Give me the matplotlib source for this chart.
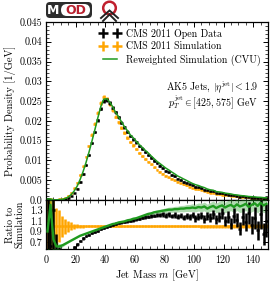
import numpy as np
import matplotlib
matplotlib.use("Agg")
import matplotlib.pyplot as plt
from matplotlib.patches import FancyBboxPatch, Circle
from matplotlib.ticker import MultipleLocator, FixedLocator, FixedFormatter

plt.rcParams['font.family'] = 'serif'
plt.rcParams['font.serif'] = ['cmr10']
plt.rcParams['mathtext.fontset'] = 'cm'
plt.rcParams['axes.unicode_minus'] = False
plt.rcParams['axes.formatter.use_mathtext'] = True

# 2 GeV bins from 0 to 150
bin_edges = np.arange(0, 152, 2)
mass = bin_edges[:-1] + 1

# simulation (orange), probability density per bin
sim_density = [0.0003, 0.0002, 0.0001, 0.0001, 0.0002, 0.0003, 0.0006, 0.0011, 0.0019, 0.0030,
               0.0044, 0.0063, 0.0085, 0.0110, 0.0137, 0.0165, 0.0193, 0.0221, 0.0246, 0.0260,
               0.0256, 0.0243, 0.0227, 0.0211, 0.0197, 0.0183, 0.0170, 0.0158, 0.0147, 0.0138,
               0.0129, 0.0120, 0.0112, 0.0104, 0.0097, 0.0090, 0.0083, 0.0077, 0.0072, 0.0067,
               0.0062, 0.0058, 0.0054, 0.0050, 0.0046, 0.0043, 0.0040, 0.0037, 0.0034, 0.0031,
               0.0029, 0.0027, 0.0025, 0.0023, 0.0021, 0.0019, 0.0018, 0.0016, 0.0015, 0.0014,
               0.0013, 0.0012, 0.0011, 0.0010, 0.00092, 0.00085, 0.00078, 0.00072, 0.00066, 0.00061,
               0.00056, 0.00052, 0.00048, 0.00044, 0.00041]
sim_relerr = [0.8, 0.9, 0.9, 0.35, 0.3, 0.2, 0.14, 0.1, 0.07, 0.05,
              0.04, 0.03, 0.025, 0.02, 0.02, 0.02, 0.02, 0.02, 0.02, 0.02,
              0.02, 0.02, 0.02, 0.02, 0.02, 0.02, 0.02, 0.02, 0.02, 0.02,
              0.02, 0.02, 0.02, 0.02, 0.02, 0.02, 0.02, 0.02, 0.02, 0.02,
              0.02, 0.02, 0.02, 0.02, 0.02, 0.02, 0.02, 0.02, 0.022, 0.022,
              0.024, 0.024, 0.025, 0.025, 0.026, 0.027, 0.028, 0.028, 0.029, 0.03,
              0.03, 0.031, 0.032, 0.033, 0.034, 0.035, 0.036, 0.036, 0.037, 0.038,
              0.038, 0.039, 0.04, 0.04, 0.04]

# open data / simulation
data_ratio = [1.0, 0.62, 1.3, 0.50, 0.40, 0.35, 0.35, 0.42, 0.52, 0.60,
              0.66, 0.72, 0.77, 0.81, 0.84, 0.87, 0.89, 0.91, 0.94, 0.96,
              0.99, 1.01, 1.03, 1.05, 1.06, 1.07, 1.08, 1.09, 1.10, 1.11,
              1.13, 1.14, 1.16, 1.17, 1.18, 1.19, 1.20, 1.21, 1.21, 1.22,
              1.20, 1.22, 1.19, 1.21, 1.18, 1.20, 1.16, 1.19, 1.17, 1.21,
              1.15, 1.18, 1.20, 1.14, 1.19, 1.16, 1.22, 1.13, 1.18, 1.24,
              1.10, 1.17, 1.05, 1.20, 1.12, 0.95, 1.18, 1.08, 1.25, 1.02,
              1.15, 0.92, 1.22, 0.85, 1.10]
data_relerr = [0.9, 0.9, 0.9, 0.7, 0.5, 0.35, 0.2, 0.12, 0.08, 0.06,
               0.045, 0.035, 0.03, 0.025, 0.022, 0.02, 0.02, 0.02, 0.02, 0.02,
               0.02, 0.02, 0.02, 0.02, 0.02, 0.02, 0.02, 0.022, 0.022, 0.022,
               0.024, 0.024, 0.025, 0.026, 0.027, 0.028, 0.03, 0.03, 0.032, 0.033,
               0.035, 0.036, 0.038, 0.04, 0.042, 0.044, 0.046, 0.048, 0.05, 0.052,
               0.055, 0.058, 0.06, 0.063, 0.066, 0.07, 0.073, 0.076, 0.08, 0.085,
               0.09, 0.095, 0.10, 0.11, 0.12, 0.13, 0.14, 0.15, 0.16, 0.17,
               0.18, 0.2, 0.22, 0.25, 0.28]

# reweighted simulation / simulation
rew_ratio = [0.9, 1.4, 0.75, 0.62, 0.62, 0.64, 0.67, 0.70, 0.73, 0.76,
             0.79, 0.82, 0.84, 0.86, 0.88, 0.90, 0.92, 0.94, 0.96, 0.98,
             1.00, 1.02, 1.04, 1.05, 1.07, 1.08, 1.09, 1.11, 1.12, 1.14,
             1.15, 1.17, 1.19, 1.21, 1.23, 1.24, 1.26, 1.27, 1.28, 1.29,
             1.30, 1.31, 1.31, 1.32, 1.32, 1.33, 1.33, 1.34, 1.34, 1.35,
             1.34, 1.36, 1.35, 1.37, 1.33, 1.36, 1.38, 1.34, 1.37, 1.39,
             1.35, 1.38, 1.40, 1.36, 1.41, 1.37, 1.39, 1.42, 1.36, 1.40,
             1.43, 1.38, 1.44, 1.39, 1.42]
rew_relerr = [0.5, 0.5, 0.4, 0.15, 0.08, 0.05, 0.03, 0.02, 0.015, 0.012,
              0.01, 0.01, 0.01, 0.01, 0.01, 0.01, 0.01, 0.01, 0.01, 0.01,
              0.01, 0.01, 0.01, 0.01, 0.01, 0.01, 0.012, 0.012, 0.012, 0.014,
              0.015, 0.016, 0.018, 0.02, 0.022, 0.024, 0.026, 0.028, 0.03, 0.032,
              0.034, 0.036, 0.038, 0.04, 0.042, 0.044, 0.046, 0.048, 0.05, 0.052,
              0.054, 0.056, 0.058, 0.06, 0.062, 0.064, 0.066, 0.068, 0.07, 0.072,
              0.074, 0.076, 0.078, 0.08, 0.082, 0.084, 0.086, 0.088, 0.09, 0.092,
              0.094, 0.096, 0.098, 0.1, 0.1]

ytick_vals = [0.0, 0.005, 0.01, 0.015, 0.02, 0.025, 0.03, 0.035, 0.04, 0.045]
ytick_labels = ["0.0", "0.005", "0.01", "0.015", "0.02", "0.025", "0.03", "0.035", "0.04", "0.045"]
ratio_ticks = [0.7, 0.9, 1.1, 1.3]

sim = np.array(sim_density)
data = sim * np.array(data_ratio)
rew = sim * np.array(rew_ratio)

ORANGE = '#ffa500'
GREEN = '#1f9a1f'
FS = 7.2

fig = plt.figure(figsize=(2.74, 2.85), dpi=100)
ax = fig.add_axes([0.168, 0.298, 0.81, 0.625])
rax = fig.add_axes([0.168, 0.126, 0.81, 0.172], sharex=ax)

# main panel
h_sim = ax.errorbar(mass, sim, yerr=sim * np.array(sim_relerr), xerr=1, fmt='none',
                    ecolor=ORANGE, elinewidth=1.8, capsize=0, zorder=2)
h_data = ax.errorbar(mass, data, yerr=data * np.array(data_relerr), xerr=1, fmt='none',
                     ecolor='black', elinewidth=1.8, capsize=0, zorder=3)
h_rew, = ax.plot(mass, rew, color=GREEN, lw=1.1, zorder=4)

ax.set_xlim(0, 150)
ax.set_ylim(0, 0.045)
ax.yaxis.set_major_locator(FixedLocator(ytick_vals))
ax.yaxis.set_major_formatter(FixedFormatter(ytick_labels))
ax.yaxis.set_minor_locator(MultipleLocator(0.001))
ax.xaxis.set_major_locator(MultipleLocator(20))
ax.xaxis.set_minor_locator(MultipleLocator(5))
ax.tick_params(labelbottom=False)
ax.set_ylabel("Probability Density [1/GeV]", fontsize=7.5, labelpad=3)

ax.legend([h_data, h_sim, h_rew],
          ["CMS 2011 Open Data", "CMS 2011 Simulation", "Reweighted Simulation (CVU)"],
          loc='upper right', frameon=False, fontsize=FS, numpoints=2,
          handlelength=2.0, handletextpad=0.6, labelspacing=0.3,
          borderaxespad=0.3)
ax.text(0.955, 0.635, r"AK5 Jets, $|\eta^{\rm jet}| < 1.9$", transform=ax.transAxes,
        ha='right', va='center', fontsize=FS)
ax.text(0.955, 0.55, r"$p_T^{\rm jet} \in [425, 575]$ GeV", transform=ax.transAxes,
        ha='right', va='center', fontsize=FS)

# ratio panel
rax.errorbar(mass, np.ones(len(mass)), yerr=sim_relerr, xerr=1, fmt='none',
             ecolor=ORANGE, elinewidth=1.8, capsize=0, zorder=2)
rax.fill_between(mass, np.array(rew_ratio) * (1 - np.array(rew_relerr)),
                 np.array(rew_ratio) * (1 + np.array(rew_relerr)),
                 color=GREEN, alpha=0.35, lw=0, zorder=3)
rax.errorbar(mass, data_ratio, yerr=np.array(data_ratio) * np.array(data_relerr), xerr=1,
             fmt='none', ecolor='black', elinewidth=1.8, capsize=0, zorder=4)
rax.plot(mass, rew_ratio, color=GREEN, lw=1.7, zorder=5)

rax.set_ylim(0.57, 1.49)
rax.yaxis.set_major_locator(FixedLocator(ratio_ticks))
rax.yaxis.set_major_formatter(FixedFormatter(["0.7", "0.9", "1.1", "1.3"]))
rax.set_ylabel("Ratio to\nSimulation", fontsize=FS, labelpad=4, linespacing=0.9)
rax.set_xlabel("Jet Mass $m$ [GeV]", fontsize=7.5, labelpad=2)

for a in (ax, rax):
    a.tick_params(which='both', direction='in', top=True, right=True, labelsize=FS, pad=2.5)
    a.tick_params(which='major', length=3.5, width=0.7)
    a.tick_params(which='minor', length=2, width=0.5)
    for s in a.spines.values():
        s.set_linewidth(0.9)

# logos drawn in pixel coordinates
lax = fig.add_axes([0, 0, 1, 1])
lax.set_xlim(0, 274)
lax.set_ylim(285, 0)
lax.axis('off')
lax.add_patch(FancyBboxPatch((46, 2), 46, 16, boxstyle="round,pad=0,rounding_size=4",
                             fc='#2d2d2d', ec='none'))
lax.add_patch(FancyBboxPatch((61, 4), 29, 12, boxstyle="round,pad=0,rounding_size=6",
                             fc='white', ec='none'))
lax.text(53.5, 10.3, "M", color='white', fontsize=9, fontweight='bold', family='DejaVu Sans',
         ha='center', va='center')
lax.text(75.5, 10.3, "OD", color='#b8202e', fontsize=9, fontweight='bold', family='DejaVu Sans',
         ha='center', va='center')
lax.add_patch(Circle((109.5, 8), 6.3, fc='none', ec='#c0202e', lw=1.8))
lax.plot([101, 109.5, 118], [18, 10.5, 18], color='#222222', lw=1.4, solid_joinstyle='miter')
lax.plot([103, 109.5, 116], [21, 14.5, 21], color='#222222', lw=1.4, solid_joinstyle='miter')

fig.savefig("out.png", dpi=100)
